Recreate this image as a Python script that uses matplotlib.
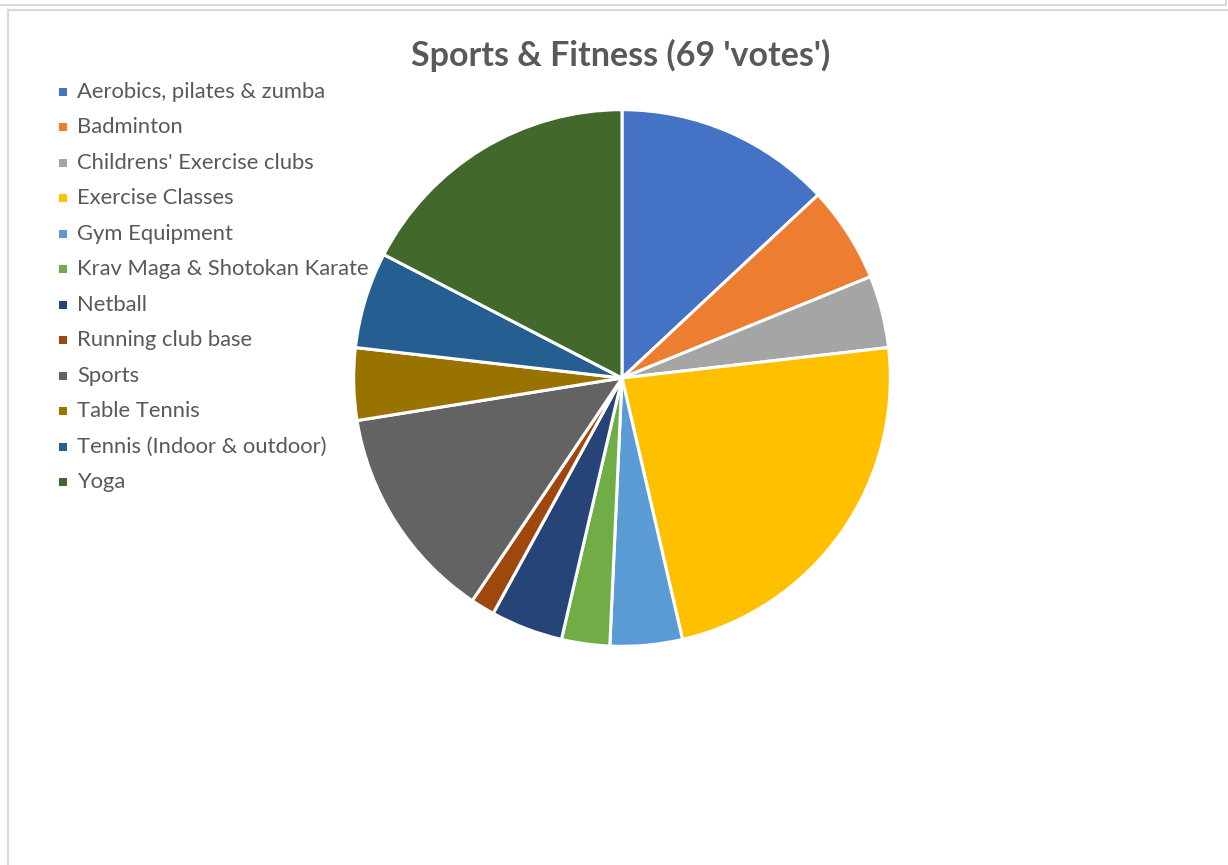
import matplotlib.pyplot as plt
from matplotlib.lines import Line2D
from matplotlib.patches import Rectangle

plt.rcParams['font.family'] = ['Lato', 'DejaVu Sans']

categories = ["Aerobics, pilates & zumba", "Badminton", "Childrens' Exercise clubs",
              "Exercise Classes", "Gym Equipment", "Krav Maga & Shotokan Karate",
              "Netball", "Running club base", "Sports", "Table Tennis",
              "Tennis (Indoor & outdoor)", "Yoga"]
votes = [9, 4, 3, 16, 3, 2, 3, 1, 9, 3, 4, 12]
colors = ["#4472C4", "#ED7D31", "#A5A5A5", "#FFC000", "#5B9BD5", "#70AD47",
          "#264478", "#9E480E", "#636363", "#997300", "#255E91", "#43682B"]

W, H = 1228, 865
fig = plt.figure(figsize=(W / 100, H / 100), dpi=100)

# frame lines of the worksheet chart boxes
fig.add_artist(Line2D([0, 1226 / W], [1 - 5 / H, 1 - 5 / H], color="#d9d9d9", lw=1.5))
fig.add_artist(Line2D([1226 / W, 1226 / W], [1 - 5 / H, 1], color="#d9d9d9", lw=1.5))
fig.add_artist(Line2D([8 / W, 1], [1 - 10 / H, 1 - 10 / H], color="#d9d9d9", lw=1.5))
fig.add_artist(Line2D([8 / W, 8 / W], [0, 1 - 10 / H], color="#d9d9d9", lw=1.5))

cx, cy, r = 622, 378, 271
ax = fig.add_axes([(cx - r) / W, (H - cy - r) / H, 2 * r / W, 2 * r / H])
ax.pie(votes, colors=colors, startangle=90, counterclock=False, radius=1,
       wedgeprops=dict(edgecolor="white", linewidth=2.2))
ax.set_xlim(-1.01, 1.01)
ax.set_ylim(-1.01, 1.01)
ax.axis("off")

fig.text(621 / W, 1 - 55 / H, "Sports & Fitness (69 'votes')", ha="center", va="center",
         fontsize=24.5, fontweight="bold", color="#595959")

# legend rows down the left side
for i, (lab, col) in enumerate(zip(categories, colors)):
    y = 92 + i * 35.45
    fig.add_artist(Rectangle(((59) / W, 1 - (y + 4) / H), 8 / W, 8 / H,
                             facecolor=col, edgecolor="none"))
    fig.text(77 / W, 1 - y / H, lab, ha="left", va="center", fontsize=15.8, color="#595959")

fig.savefig("out.png", dpi=100)
